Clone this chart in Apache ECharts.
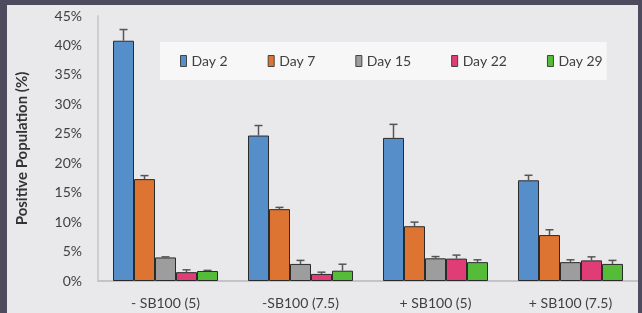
<!DOCTYPE html>
<html>
<head>
<meta charset="utf-8">
<script src="https://cdn.jsdelivr.net/npm/echarts@6/dist/echarts.min.js"></script>
<style>
  html, body { margin: 0; padding: 0; background: #4e4b5f; width: 642px; height: 313px; overflow: hidden; }
  #main { position: absolute; left: 7px; top: 5px; width: 631px; height: 308px; background: #e9e9eb; }
</style>
</head>
<body>
<div id="main"></div>
<script>
// categories and series
var categories = ['- SB100 (5)', '-SB100 (7.5)', '+ SB100 (5)', '+ SB100 (7.5)'];
var seriesNames = ['Day 2', 'Day 7', 'Day 15', 'Day 22', 'Day 29'];
var day2  = [40.8, 24.7, 24.3, 17.1];
var day7  = [17.3, 12.2, 9.3, 7.8];
var day15 = [4.0, 2.9, 3.85, 3.2];
var day22 = [1.5, 1.2, 3.8, 3.5];
var day29 = [1.7, 1.75, 3.2, 2.9];
// error (upper) values
var err2  = [1.9, 1.7, 2.3, 0.85];
var err7  = [0.6, 0.3, 0.7, 0.9];
var err15 = [0.1, 0.6, 0.3, 0.4];
var err22 = [0.4, 0.3, 0.6, 0.6];
var err29 = [0.1, 1.1, 0.4, 0.6];

var values = [day2, day7, day15, day22, day29];
var errors = [err2, err7, err15, err22, err29];
var barColors = ['#558ec8', '#dd7432', '#9d9d9d', '#e03d77', '#55bc3a'];

var BAR_W = 21;

var myChart = echarts.init(document.getElementById('main'));

// upper error bar, drawn at the centre of the matching bar
function errorRender(idx) {
    return function (params, api) {
        var cat = api.value(0);
        var val = api.value(1);
        var err = api.value(2);
        var base = api.coord([cat, val]);
        var top = api.coord([cat, val + err]);
        var x = base[0] + (idx - 2) * BAR_W;
        var st = { stroke: '#555', lineWidth: 1.5 };
        return {
            type: 'group',
            children: [
                { type: 'line', shape: { x1: x, y1: base[1], x2: x, y2: top[1] }, style: st },
                { type: 'line', shape: { x1: x - 4, y1: top[1], x2: x + 4, y2: top[1] }, style: st }
            ]
        };
    };
}

var seriesArr = [];
values.forEach(function (item, i) {
    seriesArr.push({
        name: seriesNames[i],
        type: 'bar',
        data: item,
        barWidth: BAR_W,
        barGap: '0%',
        itemStyle: { color: barColors[i], borderColor: '#2b2b2b', borderWidth: 1 }
    });
});
values.forEach(function (item, i) {
    seriesArr.push({
        type: 'custom',
        renderItem: errorRender(i),
        encode: { x: 0, y: 1 },
        data: item.map(function (v, c) { return [c, v, errors[i][c]]; }),
        z: 10,
        silent: true
    });
});

var option = {
    animation: false,
    textStyle: { fontFamily: 'Lato' },
    grid: { left: 89, top: 11, width: 551, height: 265 },
    legend: {
        data: seriesNames,
        left: 153,
        top: 37,
        padding: [12, 4, 12, 20],
        itemGap: 40,
        itemWidth: 6,
        itemHeight: 11,
        backgroundColor: '#f7f7f7',
        icon: 'rect',
        itemStyle: { borderColor: '#444', borderWidth: 1 },
        textStyle: { fontSize: 14, color: '#404040', fontFamily: 'Lato' }
    },
    xAxis: {
        type: 'category',
        data: categories,
        axisTick: { show: false },
        axisLine: { lineStyle: { color: '#c4c4c4', width: 2 } },
        axisLabel: { fontSize: 14, color: '#404040', margin: 15, fontFamily: 'Lato' }
    },
    yAxis: {
        type: 'value',
        min: 0,
        max: 45,
        interval: 5,
        name: 'Positive Population (%)',
        nameLocation: 'middle',
        nameGap: 68,
        nameTextStyle: { fontSize: 15, fontWeight: 'bold', color: '#333', fontFamily: 'Lato' },
        axisLine: { show: true, lineStyle: { color: '#cfcfcf', width: 2 } },
        axisTick: { show: false },
        splitLine: { show: false },
        axisLabel: { formatter: '{value}%', fontSize: 14, color: '#404040', margin: 16, fontFamily: 'Lato' }
    },
    series: seriesArr
};

myChart.setOption(option);
</script>
</body>
</html>
